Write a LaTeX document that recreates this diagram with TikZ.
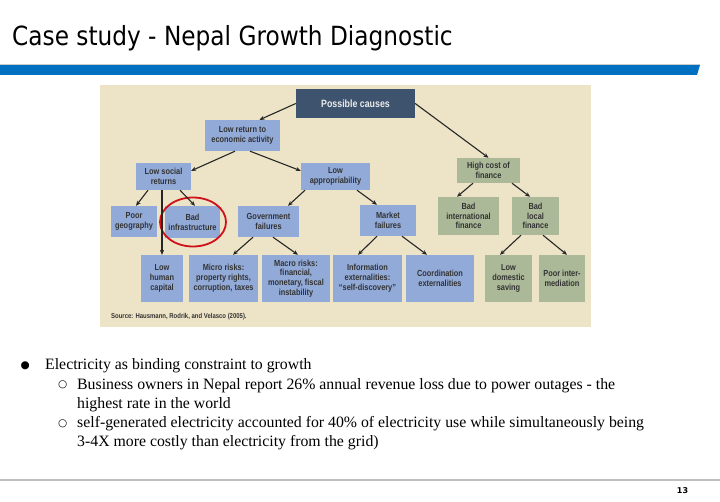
\documentclass[tikz,border=0pt]{standalone}
\usepackage{fontspec}
\setmainfont{Liberation Serif}
\newfontfamily\titlefont[FakeStretch=0.88]{DejaVu Sans}
\newfontfamily\diagfont[FakeStretch=0.84]{Liberation Sans}
\newfontfamily\footfont{DejaVu Sans}
\newfontfamily\symfont{DejaVu Sans}
\usetikzlibrary{arrows.meta,shapes.geometric}
\definecolor{bgbeige}{RGB}{237,228,200}
\definecolor{boxblue}{RGB}{146,170,216}
\definecolor{boxgreen}{RGB}{172,185,152}
\definecolor{boxdark}{RGB}{62,84,110}
\definecolor{barblue}{RGB}{0,112,192}
\definecolor{ringred}{RGB}{208,16,24}
\begin{document}
\begin{tikzpicture}[x=1pt,y=-1pt,
  base/.style={inner sep=0pt, align=center, font=\diagfont\fontsize{8.8}{9.8}\selectfont\bfseries, text=black!80},
  bbox/.style={base, fill=boxblue},
  gbox/.style={base, fill=boxgreen},
  dbox/.style={base, fill=boxdark, text=white!92!black, font=\diagfont\fontsize{10.5}{12}\selectfont\bfseries},
  arr/.style={-{Stealth[length=5pt,width=4.2pt]}, line width=1.1pt, black!85},
  bul/.style={anchor=base west, inner sep=0pt, font=\fontsize{15.8}{18}\selectfont},
  bsym/.style={anchor=base west, inner sep=0pt, font=\symfont\fontsize{10.5}{11}\selectfont}
]
\useasboundingbox (0,0) rectangle (720,502);
\fill[white] (0,0) rectangle (720,502);
% title
\node[anchor=base west, inner sep=0pt, font=\titlefont\fontsize{26.4}{30}\selectfont] (title) at (12,46) {Case study - Nepal Growth Diagnostic};
% bar
\fill[barblue] (0,65) -- (700,65) -- (697,75) -- (0,75) -- cycle;
\draw[black!20, line width=0.6pt] (0,64.7) -- (700,64.7);
% diagram background
\fill[bgbeige] (100,85) rectangle (591,327);
% nodes
\node[dbox, minimum width=119, minimum height=29] (pc) at (355.5,103.5) {Possible causes};
\node[bbox, minimum width=75, minimum height=31] (lr) at (242.5,135.5) {Low return to\\economic activity};
\node[bbox, minimum width=55, minimum height=27] (ls) at (163.5,176.5) {Low social\\returns};
\node[bbox, minimum width=69, minimum height=27] (la) at (335.5,176.5) {Low\\appropriability};
\node[gbox, minimum width=63, minimum height=25] (hc) at (488.5,170.5) {High cost of\\finance};
\node[bbox, minimum width=46, minimum height=31] (pg) at (134,221.5) {Poor\\geography};
\node[bbox, minimum width=55, minimum height=32] (bi) at (192.5,222) {Bad\\infrastructure};
\node[bbox, minimum width=61, minimum height=31] (gf) at (268.5,221.5) {Government\\failures};
\node[bbox, minimum width=56, minimum height=31] (mf) at (388,220.5) {Market\\failures};
\node[gbox, minimum width=61, minimum height=38] (bif) at (468.5,216) {Bad\\international\\finance};
\node[gbox, minimum width=47, minimum height=38] (blf) at (535.5,216) {Bad\\local\\finance};
\node[bbox, minimum width=42, minimum height=47] (lhc) at (162,278.5) {Low\\human\\capital};
\node[bbox, minimum width=69, minimum height=47] (mir) at (223.5,278.5) {Micro risks:\\property rights,\\corruption, taxes};
\node[bbox, minimum width=68, minimum height=47] (mar) at (296,278.5) {Macro risks:\\financial,\\monetary, fiscal\\instability};
\node[bbox, minimum width=69, minimum height=47] (ie) at (367.5,278.5) {Information\\externalities:\\“self-discovery”};
\node[bbox, minimum width=68, minimum height=47] (ce) at (440,278.5) {Coordination\\externalities};
\node[gbox, minimum width=47, minimum height=47] (lds) at (508.5,278.5) {Low\\domestic\\saving};
\node[gbox, minimum width=46, minimum height=47] (pim) at (562,278.5) {Poor inter-\\mediation};
\node[anchor=west, inner sep=0pt, font=\diagfont\fontsize{7.1}{8}\selectfont\bfseries, text=black!80] (src) at (111,317) {Source: Hausmann, Rodrik, and Velasco (2005).};
% ring
\node[ellipse, draw=ringred, line width=1.8pt, minimum width=66, minimum height=49, inner sep=0pt] (ring) at (193,222) {};
% arrows
\draw[arr] (pc.west) -- ([xshift=17pt]lr.north);
\draw[arr] (pc.east) -- (hc.north);
\draw[arr] ([xshift=-7.5pt]lr.south) -- ([yshift=-8pt]ls.north east);
\draw[arr] ([xshift=7.5pt]lr.south) -- ([yshift=-8pt]la.north west);
\draw[arr] ([xshift=-15.5pt]ls.south) -- ([xshift=2pt]pg.north);
\draw[arr] (ls.south -| lhc.north) -- (lhc.north);
\draw[arr] ([xshift=16.5pt]ls.south) -- ([xshift=2.5pt]bi.north);
\draw[arr] ([xshift=-30.5pt]la.south) -- ([xshift=19.5pt]gf.north);
\draw[arr] ([xshift=21.5pt]la.south) -- ([xshift=-11pt]mf.north);
\draw[arr] ([xshift=-15.5pt]hc.south) -- ([xshift=-11.5pt]bif.north);
\draw[arr] ([xshift=23.5pt]hc.south) -- ([xshift=-5.5pt]blf.north);
\draw[arr] ([xshift=-15.5pt]gf.south) -- ([xshift=9.5pt]mir.north);
\draw[arr] ([xshift=4.5pt]gf.south) -- ([xshift=2pt]mar.north);
\draw[arr] ([xshift=-11pt]mf.south) -- ([xshift=-9.5pt]ie.north);
\draw[arr] ([xshift=14pt]mf.south) -- ([xshift=-13pt]ce.north);
\draw[arr] ([xshift=-14.5pt]blf.south) -- ([xshift=-8.5pt]lds.north);
\draw[arr] ([xshift=7.5pt]blf.south) -- ([xshift=5pt]pim.north);
% bullets
\node[bsym] (b1) at (20.5,369) {●};
\node[bul] (t1) at (45,370) {Electricity as binding constraint to growth};
\node[bsym] (b2) at (58,388) {○};
\node[bul] (t2) at (77,389) {Business owners in Nepal report 26\% annual revenue loss due to power outages - the};
\node[bul] (t3) at (77,408) {highest rate in the world};
\node[bsym] (b3) at (58,426) {○};
\node[bul] (t4) at (77,427) {self-generated electricity accounted for 40\% of electricity use while simultaneously being};
\node[bul] (t5) at (77,446) {3-4X more costly than electricity from the grid)};
% footer
\draw[black!25, line width=1.4pt] (0,480) -- (720,480);
\node[inner sep=0pt, font=\footfont\fontsize{8}{9}\selectfont\bfseries] (pg13) at (682.5,491) {13};
\end{tikzpicture}
\end{document}
